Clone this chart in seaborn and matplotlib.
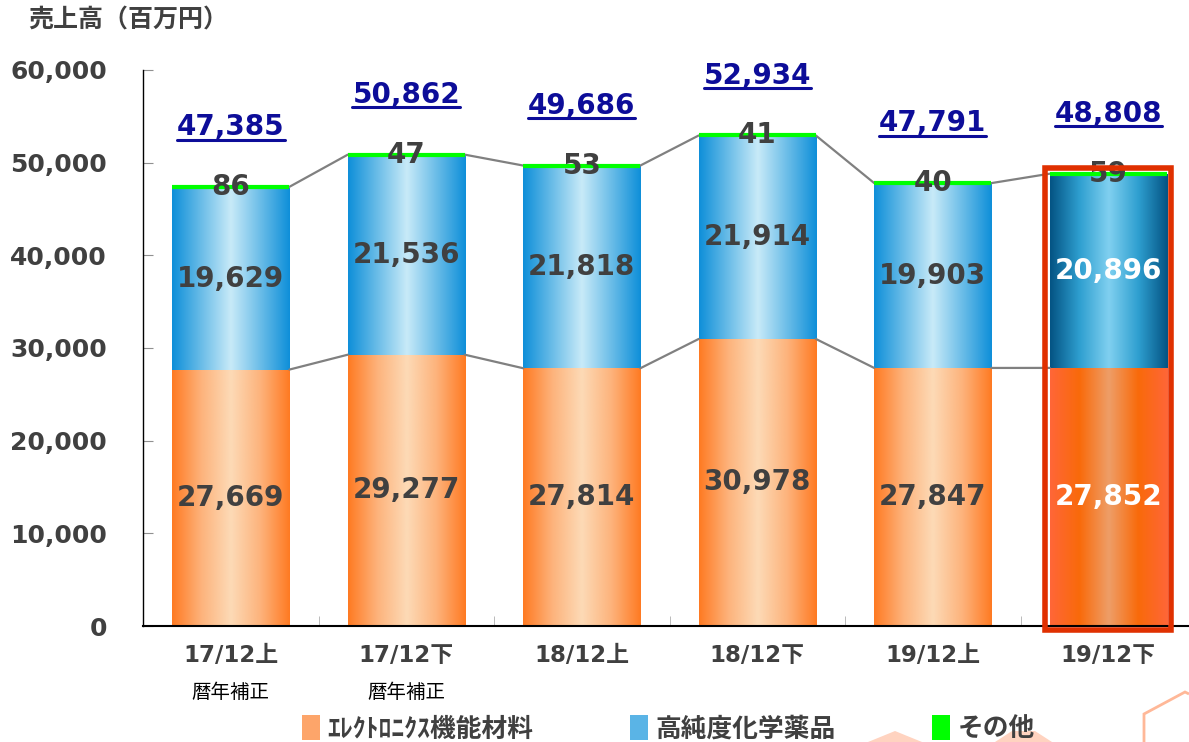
import numpy as np
import pandas as pd
import seaborn as sns
import matplotlib.pyplot as plt
from matplotlib.colors import LinearSegmentedColormap
from matplotlib.patches import Rectangle, Polygon, Patch

# data
categories = ['17/12上', '17/12下', '18/12上', '18/12下', '19/12上', '19/12下']
sub_notes = ['暦年補正', '暦年補正', '', '', '', '']
electronics = [27669, 29277, 27814, 30978, 27847, 27852]
chemicals = [19629, 21536, 21818, 21914, 19903, 20896]
other = [86, 47, 53, 41, 40, 59]
totals = [47385, 50862, 49686, 52934, 47791, 48808]
series_names = ['ｴﾚｸﾄﾛﾆｸｽ機能材料', '高純度化学薬品', 'その他']

df = pd.DataFrame({'cat': categories, 'elec': electronics, 'chem': chemicals,
                   'other': other, 'total': totals})
df['top_chem'] = df['elec'] + df['chem']

sns.set_style('white')
plt.rcParams['font.family'] = ['DejaVu Sans', 'Noto Sans CJK JP']
GRAY = '#404040'
NAVY = '#0D0D99'

fig = plt.figure(figsize=(11.89, 7.42), dpi=100)
ax = fig.add_axes([0.1203, 0.1563, 0.8797, 0.7494])

W = 0.667
sns.barplot(data=df, x='cat', y='top_chem', color='#5AB4E6', width=W, ax=ax, linewidth=0)
chem_bars = list(ax.containers[-1])
sns.barplot(data=df, x='cat', y='elec', color='#FFA060', width=W, ax=ax, linewidth=0)
elec_bars = list(ax.containers[-1])

cm_or = LinearSegmentedColormap.from_list('o', ['#FF7A22', '#FDB37C', '#FDDAB6', '#FDB37C', '#FF7A22'])
cm_bl = LinearSegmentedColormap.from_list('b', ['#0E8FD9', '#6BBDE8', '#C8EAF8', '#6BBDE8', '#0E8FD9'])
cm_or2 = LinearSegmentedColormap.from_list('o2', ['#FF6638', '#F96A0A', '#EE9E68', '#F96A0A', '#FF6638'])
cm_bl2 = LinearSegmentedColormap.from_list('b2', ['#045383', '#2E9FD0', '#80D0F0', '#2E9FD0', '#045383'])
grad = np.linspace(0, 1, 256).reshape(1, -1)


def fill_gradient(bar, cmap):
    x0, y0 = bar.get_x(), bar.get_y()
    im = ax.imshow(grad, cmap=cmap, aspect='auto', interpolation='bicubic',
                   extent=(x0, x0 + bar.get_width(), y0, y0 + bar.get_height()), zorder=bar.get_zorder())
    im.set_clip_path(bar)
    bar.set_facecolor('none')


n = len(categories)
for i in range(n):
    last = i == n - 1
    fill_gradient(chem_bars[i], cm_bl2 if last else cm_bl)
    fill_gradient(elec_bars[i], cm_or2 if last else cm_or)
ax.set_xlim(-0.5, 5.46)
ax.set_ylim(0, 60000)

# green "other" band at top
for i, b in enumerate(chem_bars):
    ax.plot([b.get_x(), b.get_x() + b.get_width()], [df['total'][i]] * 2,
            color='#00FF00', lw=3, solid_capstyle='butt', zorder=4)

# connector lines
for i in range(n - 1):
    xr = chem_bars[i].get_x() + W
    xl = chem_bars[i + 1].get_x()
    ax.plot([xr, xl], [df['elec'][i], df['elec'][i + 1]], color='#808080', lw=1.6, zorder=1)
    ax.plot([xr, xl], [df['total'][i], df['total'][i + 1]], color='#808080', lw=1.6, zorder=1)

# labels
total_texts = []
for i in range(n):
    last = i == n - 1
    c = 'white' if last else GRAY
    ax.text(i, df['elec'][i] / 2, f"{df['elec'][i]:,}", ha='center', va='center',
            fontsize=20, fontweight='bold', color=c, zorder=5)
    ax.text(i, df['elec'][i] + df['chem'][i] / 2, f"{df['chem'][i]:,}", ha='center', va='center',
            fontsize=20, fontweight='bold', color=c, zorder=5)
    ax.text(i, df['total'][i], f"{df['other'][i]:,}", ha='center', va='center',
            fontsize=20, fontweight='bold', color=GRAY, zorder=5)
    t = ax.annotate(f"{df['total'][i]:,}", (i, df['total'][i]), xytext=(0, 43), textcoords='offset points',
                    ha='center', va='center', fontsize=20, fontweight='bold', color=NAVY,
                    zorder=5, annotation_clip=False)
    total_texts.append(t)

# highlight frame on last bar
lb = elec_bars[-1]
pad = 0.025
ax.add_patch(Rectangle((lb.get_x() - pad, -400), lb.get_width() + 2 * pad, df['total'].iloc[-1] + 1000,
                       fill=False, edgecolor='#E03000', lw=4, zorder=6, clip_on=False))

ax.set_yticks(np.arange(0, 60001, 10000))
ax.set_yticklabels([f'{v:,}' for v in range(0, 60001, 10000)], fontsize=18, fontweight='bold', color=GRAY)
ax.tick_params(axis='y', direction='in', length=7, color='#909090', pad=26, left=True)
ax.set_xticks(range(n))
ax.set_xticklabels(categories, fontsize=16.5, fontweight='bold', color=GRAY)
ax.tick_params(axis='x', length=0, pad=13)
ax.set_xticks(np.arange(0.5, n - 0.5), minor=True)
ax.tick_params(axis='x', which='minor', direction='in', length=7, color='#B0B0B0', bottom=True)
ax.set_xlabel('')
ax.set_ylabel('')
for s in ['top', 'right']:
    ax.spines[s].set_visible(False)
ax.spines['left'].set_color('black')
ax.spines['left'].set_linewidth(1)
ax.spines['bottom'].set_color('black')
ax.spines['bottom'].set_linewidth(1.5)

for i, note in enumerate(sub_notes):
    if note:
        ax.annotate(note, (i, 0), xytext=(0, -48), textcoords='offset points', ha='center', va='center',
                    fontsize=14, color='black', family=['Noto Sans CJK JP'], annotation_clip=False)

fig.text(28 / 1189, 1 - 21 / 742, '売上高（百万円）', ha='left', va='center', fontsize=18,
         fontweight='bold', color=GRAY, family=['Noto Sans CJK JP'])

# decorative background shapes
def px(pts):
    return [(x / 1189, 1 - y / 742) for x, y in pts]

fig.add_artist(Polygon(px([(868, 742), (895, 731), (922, 742)]), closed=True, fc='#FFD3C0', ec='none',
                       transform=fig.transFigure, zorder=0))
fig.add_artist(Polygon(px([(995, 742), (1012, 731), (1035, 731), (1052, 742)]), closed=True, fc='#FFD3C0',
                       ec='none', transform=fig.transFigure, zorder=0))
fig.add_artist(Polygon(px([(1144, 742), (1144, 714), (1185, 692), (1189, 694)]), closed=False, fill=False,
                       ec='#FFB898', lw=2, transform=fig.transFigure, zorder=0))

handles = [Patch(fc='#FDA56A', ec='none'), Patch(fc='#5AB4E6', ec='none'), Patch(fc='#00FF00', ec='none')]
leg = fig.legend(handles, series_names, loc='center left', bbox_to_anchor=(302 / 1189, 1 - 729 / 742),
                 ncol=3, frameon=False, handlelength=0.7, handleheight=1.1, handletextpad=0.3,
                 columnspacing=3.75, borderpad=0, borderaxespad=0,
                 prop={'family': ['Noto Sans CJK JP'], 'weight': 'bold', 'size': 18.5})
for t in leg.get_texts():
    t.set_color(GRAY)

# underline under totals
fig.canvas.draw()
inv = fig.transFigure.inverted()
for t in total_texts:
    bb = t.get_window_extent()
    (x0, y0), (x1, y1) = inv.transform([(bb.x0, bb.y0), (bb.x1, bb.y1)])
    fig.add_artist(plt.Line2D([x0, x1], [y0 + 0.002, y0 + 0.002], color=NAVY, lw=2.2))

fig.savefig('out.png', dpi=100)
